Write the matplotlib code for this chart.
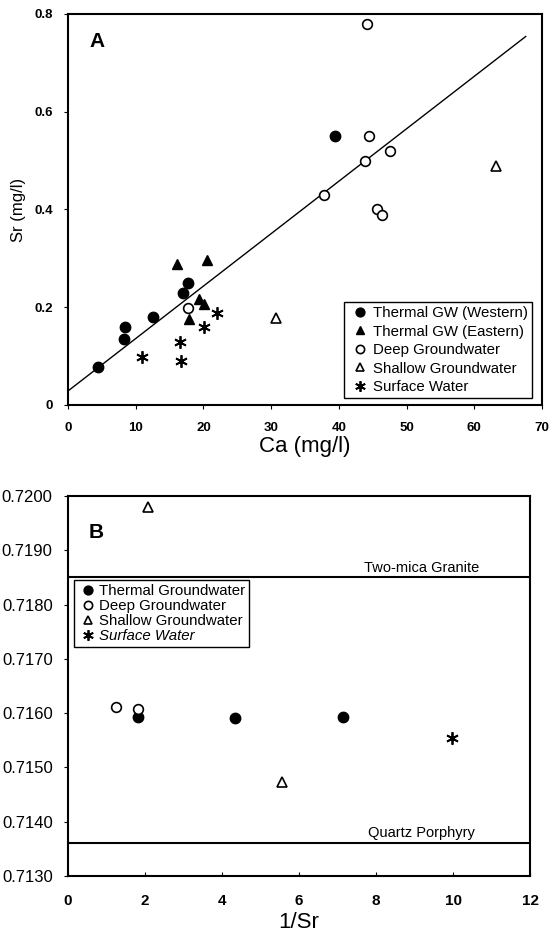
import numpy as np
import matplotlib; matplotlib.use('Agg')
import matplotlib.pyplot as plt

plt.rcParams['font.family'] = ['Liberation Sans', 'DejaVu Sans']

# ---- Panel A: Sr vs Ca ----
west_ca = [4.5, 8.3, 8.4, 12.5, 17.0, 17.7, 39.5]
west_sr = [0.078, 0.136, 0.159, 0.179, 0.229, 0.249, 0.55]
east_ca = [16.1, 20.5, 19.3, 20.1, 17.9]
east_sr = [0.288, 0.297, 0.217, 0.207, 0.175]
deep_ca = [17.7, 37.8, 43.9, 44.4, 47.5, 45.7, 46.4, 44.1]
deep_sr = [0.199, 0.43, 0.50, 0.55, 0.52, 0.40, 0.389, 0.78]
shal_ca = [30.7, 63.2]
shal_sr = [0.178, 0.488]
surf_ca = [10.9, 16.5, 16.7, 20.1, 22.0]
surf_sr = [0.099, 0.128, 0.089, 0.159, 0.188]
fit_slope, fit_icpt = 0.01073, 0.0286
fit_x = [0, 67.6]
a_xticks = [0, 10, 20, 30, 40, 50, 60, 70]
a_yticks = [0, 0.2, 0.4, 0.6, 0.8]
a_ylabels = ['0', '0.2', '0.4', '0.6', '0.8']

# ---- Panel B: 87Sr/86Sr vs 1/Sr ----
b_thermal_x = [1.82, 4.34, 7.14]
b_thermal_y = [0.71593, 0.71592, 0.71593]
b_deep_x = [1.26, 1.82]
b_deep_y = [0.71612, 0.71607]
b_shal_x = [2.08, 5.55]
b_shal_y = [0.71980, 0.71474]
b_surf_x = [9.97]
b_surf_y = [0.71555]
granite_y = 0.71850
porphyry_y = 0.71360
b_xticks = [0, 2, 4, 6, 8, 10, 12]
b_yticks = [0.7130, 0.7140, 0.7150, 0.7160, 0.7170, 0.7180, 0.7190, 0.7200]

STAR = (6, 2, 0)

fig = plt.figure(figsize=(5.54, 9.44), dpi=100)
axA = fig.add_axes([0.1227, 0.571, 0.8556, 0.4142])
axB = fig.add_axes([0.1227, 0.072, 0.834, 0.4025])

# panel A
fx = np.array(fit_x)
axA.plot(fx, fit_icpt + fit_slope * fx, 'k-', lw=1.0)
axA.plot(west_ca, west_sr, 'o', color='k', ms=7.5, ls='none', label='Thermal GW (Western)')
axA.plot(east_ca, east_sr, '^', color='k', ms=7.5, ls='none', label='Thermal GW (Eastern)')
axA.plot(deep_ca, deep_sr, 'o', mfc='white', mec='k', mew=1.2, ms=7, ls='none', label='Deep Groundwater')
axA.plot(shal_ca, shal_sr, '^', mfc='white', mec='k', mew=1.2, ms=7, ls='none', label='Shallow Groundwater')
axA.plot(surf_ca, surf_sr, marker=STAR, color='k', mew=1.3, ms=9, ls='none', label='Surface Water')
axA.set_xlim(0, 70); axA.set_ylim(0, 0.8)
axA.set_xticks(a_xticks)
axA.set_xticklabels([str(v) for v in a_xticks], fontsize=9.5, fontweight='bold')
axA.set_yticks(a_yticks)
axA.set_yticklabels(a_ylabels, fontsize=9.5, fontweight='bold')
axA.tick_params(length=3)
axA.tick_params(axis='y', pad=8)
axA.tick_params(axis='x', pad=9)
axA.set_xlabel('Ca (mg/l)', fontsize=16, labelpad=2)
axA.set_ylabel('Sr (mg/l)', fontsize=12, labelpad=6)
axA.text(0.045, 0.93, 'A', transform=axA.transAxes, fontsize=15, fontweight='bold', va='center')
leg = axA.legend(loc='lower right', fontsize=10.8, handletextpad=0.1, borderpad=0.25,
                 labelspacing=0.3, fancybox=False, framealpha=1, edgecolor='k',
                 handlelength=1.6, bbox_to_anchor=(0.979, 0.018), markerscale=0.85,
                 borderaxespad=0)
leg.get_frame().set_linewidth(1.0)

# panel B
axB.axhline(granite_y, color='k', lw=1.5)
axB.axhline(porphyry_y, color='k', lw=1.5)
axB.text(9.19, granite_y + 0.00004, 'Two-mica Granite', fontsize=10.5, ha='center', va='bottom')
axB.text(9.19, porphyry_y + 0.00006, 'Quartz Porphyry', fontsize=10.5, ha='center', va='bottom')
axB.plot(b_thermal_x, b_thermal_y, 'o', color='k', ms=7.5, ls='none', label='Thermal Groundwater')
axB.plot(b_deep_x, b_deep_y, 'o', mfc='white', mec='k', mew=1.2, ms=7, ls='none', label='Deep Groundwater')
axB.plot(b_shal_x, b_shal_y, '^', mfc='white', mec='k', mew=1.2, ms=7, ls='none', label='Shallow Groundwater')
axB.plot(b_surf_x, b_surf_y, marker=STAR, color='k', mew=1.3, ms=9, ls='none', label='Surface Water')
axB.set_xlim(0, 12); axB.set_ylim(0.7130, 0.7200)
axB.set_xticks(b_xticks)
axB.set_xticklabels([str(v) for v in b_xticks], fontsize=11, fontweight='bold')
axB.set_yticks(b_yticks)
axB.set_yticklabels([f'{v:.4f}' for v in b_yticks], fontsize=12)
axB.tick_params(axis='y', length=3, pad=8)
axB.tick_params(axis='x', length=3, direction='in', pad=13)
axB.set_xlabel('1/Sr', fontsize=16, labelpad=3)
axB.text(0.045, 0.905, 'B', transform=axB.transAxes, fontsize=15, fontweight='bold', va='center')
legB = axB.legend(loc='upper left', fontsize=10.8, handletextpad=0.0, borderpad=0.25,
                  labelspacing=0.08, fancybox=False, framealpha=1, edgecolor='k',
                  handlelength=1.4, bbox_to_anchor=(0.013, 0.779), markerscale=0.85,
                  borderaxespad=0)
legB.get_frame().set_linewidth(1.0)
legB.get_texts()[3].set_fontstyle('italic')

for ax in (axA, axB):
    for s in ax.spines.values():
        s.set_linewidth(1.5)

fig.savefig('out.png', dpi=100)
